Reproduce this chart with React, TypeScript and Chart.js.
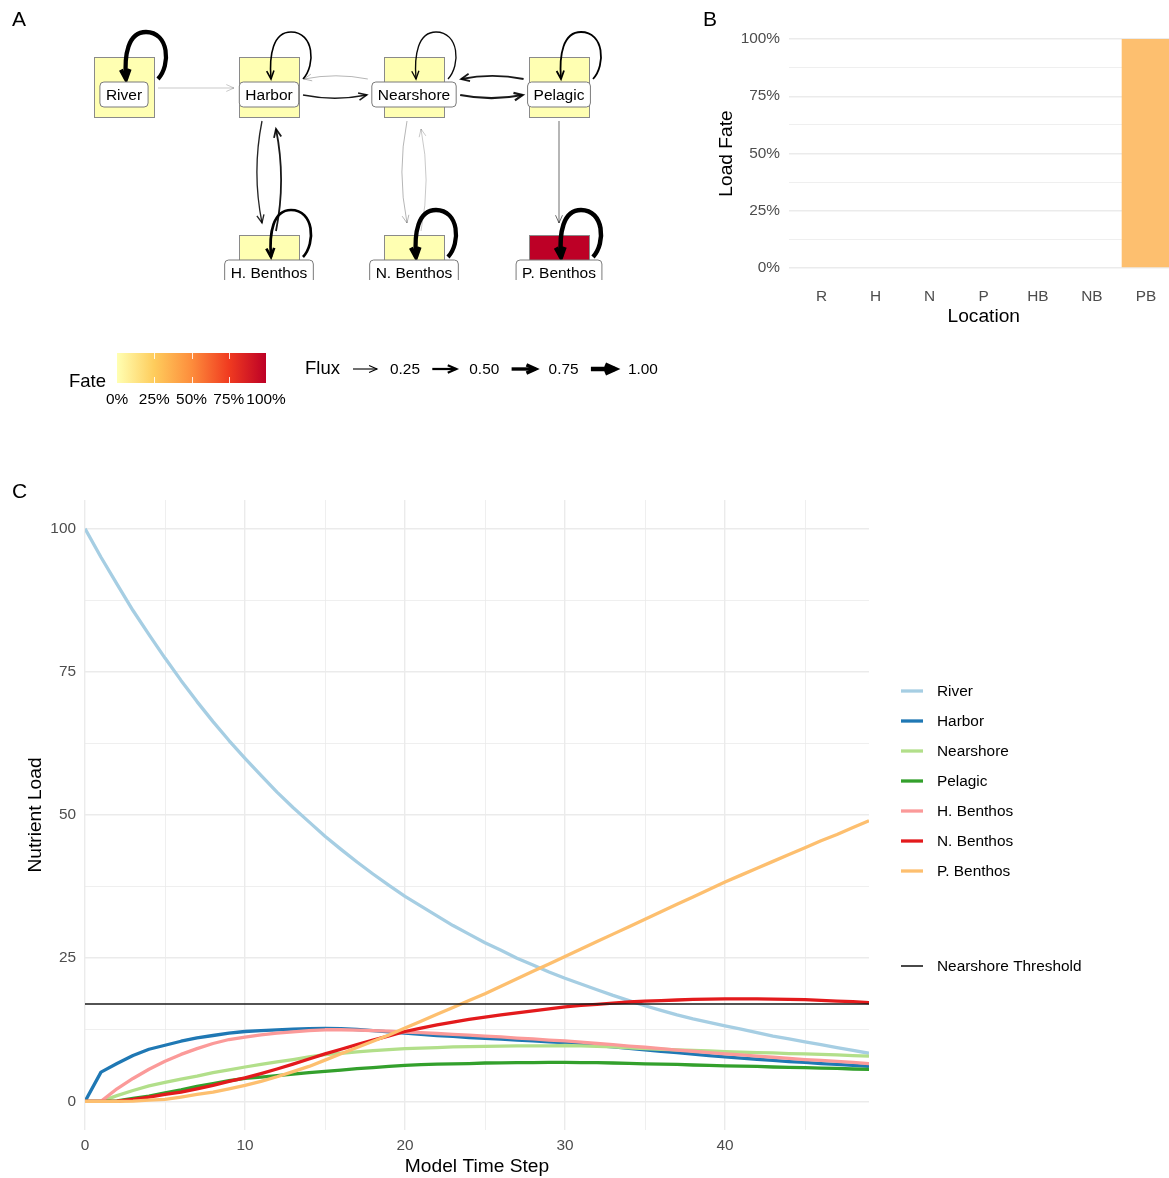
import React, { useEffect, useRef } from "react";
import { Chart, registerables } from "chart.js";

Chart.register(...registerables);

const FONT = "'Liberation Sans', Arial, Helvetica, sans-serif";
const TICK_COLOR = "#4D4D4D";
const GRID_COLOR = "#EBEBEB";
const TICK_SIZE = 15.4;
const TITLE_SIZE = 19.2;

/* ---------- Panel C: nutrient load per compartment, steps 0..49 ---------- */
const riverLoad = [
  100, 95, 90.3, 85.7, 81.5, 77.4, 73.5, 69.8, 66.3, 63.0,
  59.9, 56.9, 54.0, 51.3, 48.8, 46.3, 44.0, 41.8, 39.7, 37.7,
  35.8, 34.1, 32.4, 30.7, 29.2, 27.7, 26.4, 25.0, 23.8, 22.6,
  21.5, 20.5, 19.5, 18.5, 17.6, 16.7, 15.9, 15.1, 14.4, 13.8,
  13.2, 12.6, 12.0, 11.4, 10.9, 10.4, 9.9, 9.4, 8.9, 8.4,
];
const harborLoad = [
  0, 5.1, 6.6, 8.0, 9.1, 9.8, 10.5, 11.1, 11.5, 11.9,
  12.2, 12.35, 12.5, 12.6, 12.7, 12.75, 12.7, 12.55, 12.35, 12.15,
  11.9, 11.7, 11.5, 11.35, 11.15, 11.0, 10.85, 10.7, 10.55, 10.4,
  10.25, 10.0, 9.75, 9.5, 9.25, 9.0, 8.75, 8.5, 8.25, 8.0,
  7.75, 7.55, 7.35, 7.15, 6.95, 6.8, 6.6, 6.45, 6.3, 6.1,
];
const nearshoreLoad = [
  0, 0, 1.0, 1.9, 2.7, 3.3, 3.9, 4.4, 5.0, 5.5,
  6.0, 6.45, 6.9, 7.3, 7.75, 8.15, 8.4, 8.65, 8.85, 9.05,
  9.2, 9.3, 9.4, 9.5, 9.55, 9.6, 9.65, 9.7, 9.7, 9.7,
  9.75, 9.7, 9.6, 9.5, 9.35, 9.2, 9.1, 9.0, 8.9, 8.8,
  8.7, 8.6, 8.5, 8.45, 8.35, 8.3, 8.2, 8.1, 8.0, 7.9,
];
const pelagicLoad = [
  0, 0, 0.1, 0.5, 0.9, 1.5, 2.0, 2.6, 3.1, 3.6,
  4.0, 4.25, 4.5, 4.75, 5.0, 5.25, 5.45, 5.7, 5.9, 6.1,
  6.3, 6.4, 6.5, 6.55, 6.6, 6.7, 6.72, 6.75, 6.78, 6.8,
  6.8, 6.78, 6.75, 6.7, 6.65, 6.55, 6.5, 6.45, 6.35, 6.3,
  6.2, 6.15, 6.1, 6.0, 5.95, 5.9, 5.8, 5.75, 5.65, 5.6,
];
const hBenthosLoad = [
  0, 0, 2.2, 4.0, 5.6, 7.0, 8.2, 9.2, 10.1, 10.8,
  11.2, 11.6, 11.9, 12.15, 12.35, 12.5, 12.5, 12.45, 12.35, 12.25,
  12.1, 12.0, 11.85, 11.7, 11.55, 11.4, 11.25, 11.05, 10.9, 10.7,
  10.55, 10.35, 10.1, 9.9, 9.65, 9.45, 9.2, 8.95, 8.75, 8.5,
  8.3, 8.1, 7.9, 7.7, 7.5, 7.3, 7.15, 7.0, 6.8, 6.6,
];
const nBenthosLoad = [
  0, 0, 0.05, 0.35, 0.75, 1.2, 1.6, 2.2, 2.8, 3.5,
  4.1, 4.85, 5.65, 6.5, 7.4, 8.3, 9.1, 9.9, 10.7, 11.45,
  12.2, 12.8, 13.35, 13.85, 14.3, 14.7, 15.1, 15.45, 15.8, 16.15,
  16.5, 16.75, 16.95, 17.15, 17.35, 17.5, 17.6, 17.7, 17.8, 17.85,
  17.9, 17.9, 17.9, 17.85, 17.8, 17.75, 17.65, 17.5, 17.4, 17.25,
];
const pBenthosLoad = [
  0, 0, 0, 0.05, 0.2, 0.35, 0.75, 1.2, 1.6, 2.2,
  2.8, 3.5, 4.3, 5.2, 6.1, 7.2, 8.3, 9.4, 10.5, 11.6,
  12.8, 14.0, 15.2, 16.4, 17.6, 18.8, 20.1, 21.4, 22.7, 24.0,
  25.3, 26.6, 27.9, 29.2, 30.5, 31.8, 33.1, 34.4, 35.7, 37.0,
  38.3, 39.5, 40.7, 41.9, 43.1, 44.3, 45.5, 46.6, 47.8, 49.0,
];

const compartmentNames = ["River", "Harbor", "Nearshore", "Pelagic", "H. Benthos", "N. Benthos", "P. Benthos"];
const compartmentColors = ["#A6CEE3", "#1F78B4", "#B2DF8A", "#33A02C", "#FB9A99", "#E31A1C", "#FDBF6F"];
const compartmentLoads = [riverLoad, harborLoad, nearshoreLoad, pelagicLoad, hBenthosLoad, nBenthosLoad, pBenthosLoad];

const nearshoreThreshold = 17;
const thresholdName = "Nearshore Threshold";
const loadLabelTicks = [0, 25, 50, 75, 100];
const loadGridTicks = [0, 12.5, 25, 37.5, 50, 62.5, 75, 87.5, 100];
const stepLabelTicks = [0, 10, 20, 30, 40];
const stepGridTicks = [0, 5, 10, 15, 20, 25, 30, 35, 40, 45];
const lastStep = 49;

/* ---------- Panel B: where the load ends up ---------- */
const locationCodes = ["R", "H", "N", "P", "HB", "NB", "PB"];
const loadFatePercent = [0, 0, 0, 0, 0, 0, 100];
const fateLabelTicks = [0, 25, 50, 75, 100];
const fateGridTicks = [0, 12.5, 25, 37.5, 50, 62.5, 75, 87.5, 100];

/* ---------- Panel A: compartment network ---------- */
const nodeNames = compartmentNames;
const nodeColumn = [1, 2, 3, 4, 2, 3, 4];
const nodeRow = [1, 1, 1, 1, 2, 2, 2];
const nodeFate = [0, 0, 0, 0, 0, 0, 1];

const edgeFrom = [
  "River", "River", "Harbor", "Harbor", "Harbor", "Nearshore", "Nearshore", "Nearshore", "Nearshore",
  "Pelagic", "Pelagic", "Pelagic", "H. Benthos", "H. Benthos", "N. Benthos", "N. Benthos", "P. Benthos",
];
const edgeTo = [
  "River", "Harbor", "Harbor", "Nearshore", "H. Benthos", "Harbor", "Nearshore", "Pelagic", "N. Benthos",
  "Nearshore", "Pelagic", "P. Benthos", "Harbor", "H. Benthos", "Nearshore", "N. Benthos", "P. Benthos",
];
const edgeFlux = [0.95, 0.05, 0.35, 0.35, 0.3, 0.1, 0.3, 0.5, 0.1, 0.4, 0.4, 0.2, 0.4, 0.6, 0.05, 0.95, 1.0];

const fateBreaks = [0, 0.25, 0.5, 0.75, 1];
const fluxBreaks = [0.25, 0.5, 0.75, 1];
const fatePalette = ["#FFFFB2", "#FECC5C", "#FD8D3C", "#F03B20", "#BD0026"];

/* ---------- helpers ---------- */
function hexRgb(h: string) {
  const n = parseInt(h.slice(1), 16);
  return [(n >> 16) & 255, (n >> 8) & 255, n & 255];
}

function fateColor(f: number) {
  const s = Math.min(1, Math.max(0, f)) * (fatePalette.length - 1);
  const i = Math.min(Math.floor(s), fatePalette.length - 2);
  const t = s - i;
  const a = hexRgb(fatePalette[i]);
  const b = hexRgb(fatePalette[i + 1]);
  const c = a.map((v, k) => Math.round(v + (b[k] - v) * t));
  return `rgb(${c[0]},${c[1]},${c[2]})`;
}

const fluxWidth = (f: number) => Math.max(0.7, 4.5 * f);
const fluxAlpha = (f: number) => Math.min(0.9, 0.2 + 2.2 * f);

function arrowHead(ctx: CanvasRenderingContext2D, x: number, y: number, ang: number, w: number) {
  const len = 8 + w * 0.6;
  const spread = 0.42;
  ctx.beginPath();
  ctx.moveTo(x - len * Math.cos(ang - spread), y - len * Math.sin(ang - spread));
  ctx.lineTo(x, y);
  ctx.lineTo(x - len * Math.cos(ang + spread), y - len * Math.sin(ang + spread));
  ctx.stroke();
}

// network geometry (px)
const BOX_HALF = 30;
const LABEL_DY = 7.5;
const LABEL_HALF_H = 12.5;
const LABEL_PAD = 6;
const NODE_FONT = 15.5;
const CLIP_BOTTOM = 280;

function selfLoop(ctx: CanvasRenderingContext2D, x: number, y: number, w: number) {
  const tipY = y + LABEL_DY - LABEL_HALF_H - 3;
  ctx.beginPath();
  ctx.moveTo(x + 34, y - 8);
  ctx.bezierCurveTo(x + 47, y - 22, x + 45, y - 55, x + 22, y - 55);
  ctx.bezierCurveTo(x + 4, y - 55, x, y - 32, x + 2, tipY);
  ctx.stroke();
  arrowHead(ctx, x + 2, tipY, Math.atan2(tipY - (y - 32), 2), w);
}

function drawNetworkLegend(ctx: CanvasRenderingContext2D) {
  ctx.save();
  const x0 = 117, x1 = 266, y0 = 353, y1 = 383;
  const grad = ctx.createLinearGradient(x0, 0, x1, 0);
  fateBreaks.forEach((f) => grad.addColorStop(f, fateColor(f)));
  ctx.fillStyle = grad;
  ctx.fillRect(x0, y0, x1 - x0, y1 - y0);
  ctx.strokeStyle = "rgba(255,255,255,0.85)";
  ctx.lineWidth = 1;
  fateBreaks.forEach((f) => {
    if (f <= 0 || f >= 1) return;
    const x = Math.round(x0 + f * (x1 - x0)) + 0.5;
    ctx.beginPath();
    ctx.moveTo(x, y0);
    ctx.lineTo(x, y0 + 6);
    ctx.moveTo(x, y1 - 6);
    ctx.lineTo(x, y1);
    ctx.stroke();
  });

  ctx.fillStyle = "#000";
  ctx.textBaseline = "middle";
  ctx.textAlign = "left";
  ctx.font = `18.5px ${FONT}`;
  ctx.fillText("Fate", 69, 382);
  ctx.font = `${TICK_SIZE}px ${FONT}`;
  ctx.textAlign = "center";
  fateBreaks.forEach((f) => ctx.fillText(`${Math.round(f * 100)}%`, x0 + f * (x1 - x0), 400));

  ctx.textAlign = "left";
  ctx.font = `18.5px ${FONT}`;
  ctx.fillText("Flux", 305, 369);
  ctx.font = `${TICK_SIZE}px ${FONT}`;
  ctx.strokeStyle = "#000";
  ctx.lineJoin = "miter";
  fluxBreaks.forEach((f, i) => {
    const ax = 353 + i * 79.3;
    const w = fluxWidth(f);
    ctx.lineWidth = w;
    ctx.beginPath();
    ctx.moveTo(ax, 369);
    ctx.lineTo(ax + 24, 369);
    ctx.stroke();
    arrowHead(ctx, ax + 24, 369, 0, w);
    ctx.fillText(f.toFixed(2), ax + 37, 369.5);
  });
  ctx.restore();
}

const networkPlugin = {
  id: "compartmentNetwork",
  afterDraw(chart: any) {
    const ctx: CanvasRenderingContext2D = chart.ctx;
    const pos = chart.getDatasetMeta(0).data.map((p: any) => ({ x: p.x, y: p.y }));
    const at = (name: string) => nodeNames.indexOf(name);

    ctx.save();
    ctx.font = `${NODE_FONT}px ${FONT}`;
    const labelHalfW = nodeNames.map((n) => ctx.measureText(n).width / 2 + LABEL_PAD);

    ctx.beginPath();
    ctx.rect(0, 0, chart.width, CLIP_BOTTOM);
    ctx.clip();

    // compartments, filled by fate
    pos.forEach((p: any, i: number) => {
      ctx.fillStyle = fateColor(nodeFate[i]);
      ctx.fillRect(p.x - BOX_HALF, p.y - BOX_HALF, BOX_HALF * 2, BOX_HALF * 2);
      ctx.strokeStyle = "#8A8A8A";
      ctx.lineWidth = 1;
      ctx.strokeRect(Math.round(p.x - BOX_HALF) + 0.5, Math.round(p.y - BOX_HALF) + 0.5, BOX_HALF * 2, BOX_HALF * 2);
    });

    // flux edges
    ctx.lineCap = "butt";
    ctx.lineJoin = "miter";
    edgeFrom.forEach((from, k) => {
      const to = edgeTo[k];
      const a = at(from);
      const b = at(to);
      const flux = edgeFlux[k];
      const w = fluxWidth(flux);
      ctx.strokeStyle = `rgba(0,0,0,${a === b ? Math.min(1, fluxAlpha(flux) + 0.1) : fluxAlpha(flux)})`;
      ctx.lineWidth = w;
      if (a === b) {
        selfLoop(ctx, pos[a].x, pos[a].y, w);
        return;
      }
      const A = pos[a];
      const B = pos[b];
      const dx = B.x - A.x;
      const dy = B.y - A.y;
      const len = Math.hypot(dx, dy);
      const ux = dx / len, uy = dy / len;
      const nx = -uy, ny = ux;
      const horiz = Math.abs(dx) > Math.abs(dy);
      const paired = edgeFrom.some((f2, k2) => f2 === to && edgeTo[k2] === from);
      const extA = horiz ? Math.max(BOX_HALF, labelHalfW[a]) : BOX_HALF;
      const extB = horiz ? Math.max(BOX_HALF, labelHalfW[b]) : BOX_HALF;
      const off = paired ? (horiz ? 8 : 7) : 0;
      const endGap = horiz ? 5 : 12;
      const sx = A.x + ux * (extA + 4) + nx * off;
      const sy = A.y + uy * (extA + 4) + ny * off + (horiz && !paired ? 1 : 0);
      const ex = B.x - ux * (extB + endGap) + nx * off;
      const ey = B.y - uy * (extB + endGap) + ny * off + (horiz && !paired ? 1 : 0);
      const seg = Math.hypot(ex - sx, ey - sy);
      const bend = paired ? 0.1 * seg : 0;
      const cx = (sx + ex) / 2 + nx * bend;
      const cy = (sy + ey) / 2 + ny * bend;
      ctx.beginPath();
      ctx.moveTo(sx, sy);
      ctx.quadraticCurveTo(cx, cy, ex, ey);
      ctx.stroke();
      arrowHead(ctx, ex, ey, Math.atan2(ey - cy, ex - cx), w);
    });

    // name labels
    pos.forEach((p: any, i: number) => {
      const cy = p.y + LABEL_DY;
      const hw = labelHalfW[i];
      ctx.beginPath();
      ctx.roundRect(p.x - hw, cy - LABEL_HALF_H, hw * 2, LABEL_HALF_H * 2, 4);
      ctx.fillStyle = "#FFFFFF";
      ctx.fill();
      ctx.strokeStyle = "#7A7A7A";
      ctx.lineWidth = 1;
      ctx.stroke();
      ctx.fillStyle = "#000";
      ctx.textAlign = "center";
      ctx.textBaseline = "middle";
      ctx.fillText(nodeNames[i], p.x, cy + 1);
    });
    ctx.restore();

    drawNetworkLegend(ctx);
  },
};

const loadLegendPlugin = {
  id: "loadLegend",
  afterDraw(chart: any) {
    const ctx: CanvasRenderingContext2D = chart.ctx;
    const left = chart.chartArea.right + 32;
    ctx.save();
    ctx.font = `${TICK_SIZE}px ${FONT}`;
    ctx.textBaseline = "middle";
    ctx.textAlign = "left";
    chart.data.datasets.forEach((ds: any, i: number) => {
      const y = i < compartmentNames.length ? 211 + i * 30 : 486;
      ctx.strokeStyle = ds.borderColor;
      ctx.lineWidth = ds.borderWidth;
      ctx.beginPath();
      ctx.moveTo(left, y);
      ctx.lineTo(left + 22, y);
      ctx.stroke();
      ctx.fillStyle = "#000";
      ctx.fillText(ds.label, left + 36, y + 0.5);
    });
    ctx.restore();
  },
};

const gridWidth = (labelTicks: number[]) => (c: any) =>
  labelTicks.includes(c.tick && c.tick.value) ? 1.4 : 0.8;

function networkConfig(): any {
  const xStep = 145, yStep = 178;
  const xMin = 1 - 124 / xStep;
  const yMin = 1 - 87 / yStep;
  return {
    type: "scatter",
    data: {
      datasets: [
        {
          data: nodeNames.map((_, i) => ({ x: nodeColumn[i], y: nodeRow[i] })),
          pointRadius: 0,
          showLine: false,
        },
      ],
    },
    options: {
      animation: false,
      responsive: false,
      events: [],
      layout: { padding: 0 },
      plugins: { legend: { display: false }, tooltip: { enabled: false } },
      scales: {
        x: { type: "linear", display: false, min: xMin, max: xMin + 700 / xStep },
        y: { type: "linear", display: false, reverse: true, min: yMin, max: yMin + 420 / yStep },
      },
    },
    plugins: [networkPlugin],
  };
}

function fateConfig(): any {
  return {
    type: "bar",
    data: {
      datasets: [
        {
          data: locationCodes.map((_, i) => ({ x: i + 1, y: loadFatePercent[i] })),
          backgroundColor: compartmentColors,
          borderWidth: 0,
          barPercentage: 0.9,
          categoryPercentage: 1,
        },
      ],
    },
    options: {
      animation: false,
      responsive: false,
      events: [],
      layout: { padding: { top: 27.5, right: 1.5, bottom: 0, left: 0 } },
      plugins: { legend: { display: false }, tooltip: { enabled: false } },
      scales: {
        x: {
          type: "linear",
          min: 0.4,
          max: 7.6,
          offset: false,
          afterBuildTicks: (s: any) => {
            s.ticks = locationCodes.map((_, i) => ({ value: i + 1 }));
          },
          afterFit: (s: any) => {
            s.height = 50.5;
          },
          grid: { display: false, drawTicks: false, offset: false },
          border: { display: false },
          ticks: {
            autoSkip: false,
            maxRotation: 0,
            padding: 8.3,
            color: TICK_COLOR,
            font: { family: FONT, size: TICK_SIZE },
            callback: (v: number) => locationCodes[Math.round(v) - 1] ?? "",
          },
          title: {
            display: true,
            text: "Location",
            color: "#000",
            font: { family: FONT, size: TITLE_SIZE },
            padding: { top: 0, bottom: 1.5 },
          },
        },
        y: {
          min: -5,
          max: 105,
          afterBuildTicks: (s: any) => {
            s.ticks = fateGridTicks.map((v) => ({ value: v }));
          },
          afterFit: (s: any) => {
            s.width = 89;
          },
          grid: { color: GRID_COLOR, lineWidth: gridWidth(fateLabelTicks), drawTicks: false },
          border: { display: false },
          ticks: {
            autoSkip: false,
            padding: 9,
            color: TICK_COLOR,
            font: { family: FONT, size: TICK_SIZE },
            callback: (v: number) => (fateLabelTicks.includes(v) ? `${v}%` : ""),
          },
          title: {
            display: true,
            text: "Load Fate",
            color: "#000",
            font: { family: FONT, size: TITLE_SIZE },
            padding: { top: 15.5, bottom: 0 },
          },
        },
      },
    },
  };
}

function loadConfig(): any {
  const n = compartmentNames.length;
  const datasets: any[] = compartmentNames.map((name, i) => ({
    label: name,
    data: compartmentLoads[i].map((v, t) => ({ x: t, y: v })),
    borderColor: compartmentColors[i],
    borderWidth: 3.3,
    borderJoinStyle: "round",
    pointRadius: 0,
    tension: 0,
    fill: false,
    order: n + 1 - i,
  }));
  datasets.push({
    label: thresholdName,
    data: [
      { x: 0, y: nearshoreThreshold },
      { x: lastStep, y: nearshoreThreshold },
    ],
    borderColor: "#1A1A1A",
    borderWidth: 1.6,
    pointRadius: 0,
    fill: false,
    order: 0,
  });
  return {
    type: "line",
    data: { datasets },
    options: {
      animation: false,
      responsive: false,
      events: [],
      layout: { padding: { top: 20, right: 300, bottom: 0, left: 0 } },
      plugins: { legend: { display: false }, tooltip: { enabled: false } },
      scales: {
        x: {
          type: "linear",
          min: 0,
          max: lastStep,
          offset: false,
          afterBuildTicks: (s: any) => {
            s.ticks = stepGridTicks.map((v) => ({ value: v }));
          },
          afterFit: (s: any) => {
            s.height = 48;
          },
          grid: { color: GRID_COLOR, lineWidth: gridWidth(stepLabelTicks), drawTicks: false },
          border: { display: false },
          ticks: {
            autoSkip: false,
            maxRotation: 0,
            padding: 7,
            color: TICK_COLOR,
            font: { family: FONT, size: TICK_SIZE },
            callback: (v: number) => (stepLabelTicks.includes(v) ? String(v) : ""),
          },
          title: {
            display: true,
            text: "Model Time Step",
            color: "#000",
            font: { family: FONT, size: TITLE_SIZE },
            padding: { top: 0, bottom: 0 },
          },
        },
        y: {
          min: -5,
          max: 105,
          afterBuildTicks: (s: any) => {
            s.ticks = loadGridTicks.map((v) => ({ value: v }));
          },
          afterFit: (s: any) => {
            s.width = 85;
          },
          grid: { color: GRID_COLOR, lineWidth: gridWidth(loadLabelTicks), drawTicks: false },
          border: { display: false },
          ticks: {
            autoSkip: false,
            padding: 9,
            color: TICK_COLOR,
            font: { family: FONT, size: TICK_SIZE },
            callback: (v: number) => (loadLabelTicks.includes(v) ? String(v) : ""),
          },
          title: {
            display: true,
            text: "Nutrient Load",
            color: "#000",
            font: { family: FONT, size: TITLE_SIZE },
            padding: { top: 24.5, bottom: 0 },
          },
        },
      },
    },
    plugins: [loadLegendPlugin],
  };
}

const tagStyle = (left: number, centerY: number): React.CSSProperties => ({
  position: "absolute",
  left,
  top: centerY - 10.3,
  fontSize: 21,
  lineHeight: "21px",
  fontFamily: FONT,
  color: "#000",
});

export default function App() {
  const networkRef = useRef<HTMLCanvasElement>(null);
  const fateRef = useRef<HTMLCanvasElement>(null);
  const loadRef = useRef<HTMLCanvasElement>(null);

  useEffect(() => {
    const charts = [
      new Chart(networkRef.current as HTMLCanvasElement, networkConfig()),
      new Chart(fateRef.current as HTMLCanvasElement, fateConfig()),
      new Chart(loadRef.current as HTMLCanvasElement, loadConfig()),
    ];
    return () => charts.forEach((c) => c.destroy());
  }, []);

  return (
    <div
      style={{
        position: "absolute",
        left: 0,
        top: 0,
        width: 1169,
        height: 1178,
        overflow: "hidden",
        background: "#FFFFFF",
      }}
    >
      <canvas ref={networkRef} width={700} height={420} style={{ position: "absolute", left: 0, top: 0 }} />
      <canvas ref={fateRef} width={480} height={330} style={{ position: "absolute", left: 700, top: 0 }} />
      <canvas ref={loadRef} width={1169} height={698} style={{ position: "absolute", left: 0, top: 480 }} />
      <div style={tagStyle(12, 18)}>A</div>
      <div style={tagStyle(703, 18)}>B</div>
      <div style={tagStyle(12, 490)}>C</div>
    </div>
  );
}
